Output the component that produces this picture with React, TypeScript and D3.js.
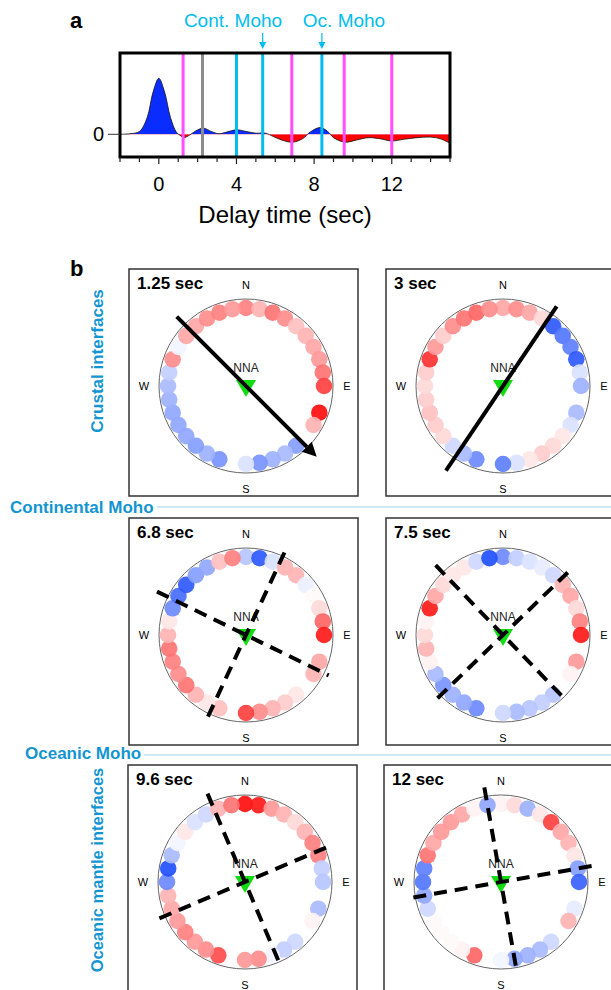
import * as d3 from 'd3';

// ---- panel a: receiver function trace ----
const traceTime = [-2, -1.5, -1, -0.6, -0.3, 0, 0.3, 0.6, 0.9, 1.1, 1.3, 1.6, 1.9, 2.3, 2.7, 3.1, 3.5, 4.0, 4.5, 5.0, 5.5, 5.9, 6.4, 6.9, 7.4, 7.8, 8.3, 8.7, 9.0, 9.6, 10.2, 10.8, 11.4, 12.0, 12.6, 13.3, 14.0, 14.5, 15.0];
const traceAmp = [0, 0.01, 0.05, 0.3, 0.75, 1.0, 0.75, 0.3, 0.04, -0.02, -0.06, -0.01, 0.06, 0.11, 0.05, 0.01, 0.04, 0.08, 0.05, 0.02, 0.02, -0.04, -0.11, -0.14, -0.08, 0.04, 0.12, 0.05, -0.06, -0.14, -0.1, -0.06, -0.08, -0.12, -0.09, -0.06, -0.05, -0.08, -0.16];

const markerTimes = [1.25, 2.25, 4.0, 5.35, 6.85, 8.4, 9.55, 12.0];
const markerKinds = ['mantle', 'other', 'moho', 'moho', 'mantle', 'moho', 'mantle', 'mantle'];
const xTicks = [0, 4, 8, 12];
const minorTicks = d3.range(-2, 16, 1);

// ---- panel b: azimuthal amplitude per 10° back-azimuth bin (N, clockwise) ----
const binAz = d3.range(0, 360, 10);
const panelTitles = ['1.25 sec', '3 sec', '6.8 sec', '7.5 sec', '9.6 sec', '12 sec'];
const amp125 = [0.5, 0.3, 0.55, 0.45, 0.25, 0.3, 0.35, 0.4, 0.55, 0.75, null, 0.95, 0.3, null, -0.5, -0.35, -0.4, -0.55, -0.15, null, -0.55, -0.4, -0.5, -0.45, -0.45, -0.45, -0.4, -0.35, -0.25, 0.45, -0.05, 0.35, 0.35, 0.45, 0.5, 0.4];
const amp3 = [0.35, 0.45, 0.35, 0.15, -0.85, -0.7, -0.65, -0.85, -0.15, -0.4, null, -0.35, -0.15, 0.1, 0.15, 0.2, 0.1, -0.15, -0.65, null, -0.6, -0.35, -0.2, 0.15, 0.2, 0.25, 0.2, 0.15, 0.2, 0.8, 0.4, 0.2, 0.45, 0.55, 0.6, 0.45];
const amp68 = [-0.3, -0.85, -0.15, 0.3, 0.3, -0.08, 0.02, 0.15, 0.6, 0.9, null, 0.35, 0.3, null, 0.1, 0.2, 0.3, 0.45, 0.75, null, 0.25, 0.1, 0.3, 0.55, 0.45, 0.5, 0.55, 0.3, 0.1, -0.6, -0.75, -0.85, -0.5, -0.45, 0.25, 0.5];
const amp75 = [-0.6, -0.25, -0.15, -0.1, -0.2, 0.3, 0.35, 0.15, 0.5, 0.9, null, 0.4, 0.05, null, -0.3, -0.25, -0.3, -0.35, -0.2, null, -0.6, -0.45, -0.4, -0.55, -0.35, 0.05, 0.3, 0.15, 0.05, 0.9, 0.35, 0.15, 0.1, 0.1, -0.2, -0.9];
const amp96 = [0.95, 0.9, 0.4, 0.3, 0.15, 0.3, 0.5, 0.5, -0.25, -0.3, null, -0.35, 0.05, null, -0.2, -0.25, -0.05, 0.45, 0.4, null, 0.7, 0.45, 0.4, 0.5, 0.4, 0.35, 0.3, -0.6, -0.9, -0.35, -0.05, 0.1, -0.15, -0.2, 0.3, 0.55];
const amp12 = [0.05, 0.15, -0.4, 0.1, 0.75, 0.35, 0.3, 0.1, -0.5, -0.8, null, -0.1, 0.3, null, -0.2, -0.35, -0.4, -0.45, -0.05, null, 0.6, 0.05, 0.02, 0.02, 0.02, -0.2, -0.45, -0.7, -0.65, 0.55, 0.35, 0.4, 0.4, 0.35, 0.05, -0.45];
const panelAmps = [amp125, amp3, amp68, amp75, amp96, amp12];

// strike lines: azimuth, forward length, back length
const panelLines = [
  [{ az: 135, fwd: 100, back: 98, dashed: false, arrow: true }],
  [{ az: 34, fwd: 96, back: 102, dashed: false, arrow: false }],
  [{ az: 116, fwd: 92, back: 99, dashed: true, arrow: false }, { az: 25, fwd: 97, back: 90, dashed: true, arrow: false }],
  [{ az: 136, fwd: 92, back: 97, dashed: true, arrow: false }, { az: 46, fwd: 96, back: 91, dashed: true, arrow: false }],
  [{ az: 157, fwd: 93, back: 96, dashed: true, arrow: false }, { az: 67, fwd: 96, back: 93, dashed: true, arrow: false }],
  [{ az: 170, fwd: 92, back: 96, dashed: true, arrow: false }, { az: 80, fwd: 100, back: 89, dashed: true, arrow: false }],
];

const FONT = 'Liberation Sans, Arial, Helvetica, sans-serif';
const LABEL_BLUE = '#1395d2';
const markerColor: Record<string, string> = { mantle: '#ff4dff', other: '#8c8c8c', moho: '#00bdf0' };

const panelBoxes = [
  { x: 129, y: 269 },
  { x: 386, y: 269 },
  { x: 129, y: 518 },
  { x: 386, y: 518 },
  { x: 128, y: 765 },
  { x: 384, y: 765 },
];
const BOX_W = 229;
const BOX_H = 227;
const CIRCLE_R = 87;
const RING_R = 78;

const ampColor = d3.scaleLinear<string>().domain([-1, 0, 1]).range(['#0a3cff', '#ffffff', '#ff0000']).clamp(true);
const azRad = d3.scaleLinear().domain([0, 360]).range([0, 2 * Math.PI]);

function polar(cx: number, cy: number, az: number, r: number): [number, number] {
  const t = azRad(az);
  return [cx + r * Math.sin(t), cy - r * Math.cos(t)];
}

function TracePanel() {
  const x = d3.scaleLinear().domain([-2, 15]).range([120, 450]);
  const y = d3.scaleLinear().domain([-0.405, 1.45]).range([157, 53]);
  const pts = traceTime.map((t, i) => ({ t, a: traceAmp[i] }));
  const area = d3.area<{ t: number; a: number }>()
    .x(d => x(d.t))
    .y0(y(0))
    .y1(d => y(d.a))
    .curve(d3.curveCatmullRom.alpha(0.5));
  const line = d3.line<{ t: number; a: number }>()
    .x(d => x(d.t))
    .y(d => y(d.a))
    .curve(d3.curveCatmullRom.alpha(0.5));
  const areaPath = area(pts) || '';
  const y0 = y(0);

  return (
    <g>
      <defs>
        <clipPath id="pos"><rect x={120} y={53} width={330} height={y0 - 53} /></clipPath>
        <clipPath id="neg"><rect x={120} y={y0} width={330} height={157 - y0} /></clipPath>
      </defs>
      <text x={70} y={28} fontFamily={FONT} fontWeight="bold" fontSize={22}>a</text>
      <path d={areaPath} fill="#0a2cff" clipPath="url(#pos)" />
      <path d={areaPath} fill="#ff0000" clipPath="url(#neg)" />
      <path d={line(pts) || ''} fill="none" stroke="#111" strokeWidth={0.8} />
      {markerTimes.map((t, i) => (
        <line key={i} x1={x(t)} x2={x(t)} y1={53} y2={157} stroke={markerColor[markerKinds[i]]} strokeWidth={3} />
      ))}
      <rect x={120} y={53} width={330} height={104} fill="none" stroke="#000" strokeWidth={3} />
      <line x1={108} x2={120} y1={y0} y2={y0} stroke="#333" strokeWidth={1} />
      <text x={104} y={y0 + 7} textAnchor="end" fontFamily={FONT} fontSize={20}>0</text>
      {minorTicks.map(t => (
        <line key={t} x1={x(t)} x2={x(t)} y1={157} y2={xTicks.includes(t) ? 164 : 162} stroke="#222" strokeWidth={1.2} />
      ))}
      {xTicks.map(t => (
        <text key={t} x={x(t)} y={191} textAnchor="middle" fontFamily={FONT} fontSize={20}>{t}</text>
      ))}
      <text x={285} y={223} textAnchor="middle" fontFamily={FONT} fontSize={24}>Delay time (sec)</text>
      <text x={233} y={27} textAnchor="middle" fontFamily={FONT} fontSize={19} fill="#00bdf0">Cont. Moho</text>
      <text x={344} y={27} textAnchor="middle" fontFamily={FONT} fontSize={19} fill="#00bdf0">Oc. Moho</text>
      {[5.35, 8.4].map(t => (
        <g key={t}>
          <line x1={x(t)} x2={x(t)} y1={33} y2={44} stroke="#00bdf0" strokeWidth={1.2} />
          <path d={`M${x(t) - 3.5},${42} L${x(t) + 3.5},${42} L${x(t)},${49} Z`} fill="#00bdf0" />
        </g>
      ))}
    </g>
  );
}

function RosePanel({ idx }: { idx: number }) {
  const box = panelBoxes[idx];
  const cx = box.x + 117;
  const cy = box.y + 117;
  const amps = panelAmps[idx];
  return (
    <g>
      <rect x={box.x} y={box.y} width={BOX_W} height={BOX_H} fill="#fff" stroke="#333" strokeWidth={1.5} />
      <text x={box.x + 8} y={box.y + 20} fontFamily={FONT} fontWeight="bold" fontSize={17}>{panelTitles[idx]}</text>
      <circle cx={cx} cy={cy} r={CIRCLE_R} fill="none" stroke="#666" strokeWidth={1} />
      {binAz.map((az, i) => {
        const v = amps[i];
        if (v === null) return null;
        const [px, py] = polar(cx, cy, az, RING_R);
        return <circle key={az} cx={px} cy={py} r={8.3} fill={ampColor(v)} fillOpacity={0.92} />;
      })}
      <text x={cx} y={cy - 97} textAnchor="middle" fontFamily={FONT} fontSize={11}>N</text>
      <text x={cx} y={cy + 107} textAnchor="middle" fontFamily={FONT} fontSize={11}>S</text>
      <text x={cx - 102} y={cy + 4} textAnchor="middle" fontFamily={FONT} fontSize={11}>W</text>
      <text x={cx + 101} y={cy + 4} textAnchor="middle" fontFamily={FONT} fontSize={11}>E</text>
      <text x={cx} y={cy - 14} textAnchor="middle" fontFamily={FONT} fontSize={12} fill="#222">NNA</text>
      <path d={`M${cx - 10},${cy - 6} L${cx + 10},${cy - 6} L${cx},${cy + 11} Z`} fill="#11dd11" />
      {panelLines[idx].map((l, j) => {
        const [x1, y1] = polar(cx, cy, l.az + 180, l.back);
        const [x2, y2] = polar(cx, cy, l.az, l.fwd);
        const [xh, yh] = polar(cx, cy, l.az, l.fwd - 14);
        const [xa, ya] = polar(xh, yh, l.az - 90, 7);
        const [xb, yb] = polar(xh, yh, l.az + 90, 7);
        return (
          <g key={j}>
            <line x1={x1} y1={y1} x2={l.arrow ? xh : x2} y2={l.arrow ? yh : y2} stroke="#000" strokeWidth={4}
              strokeDasharray={l.dashed ? '13,8' : undefined} />
            {l.arrow && <path d={`M${xa},${ya} L${x2},${y2} L${xb},${yb} Z`} fill="#000" />}
          </g>
        );
      })}
    </g>
  );
}

export default function App() {
  return (
    <svg width={611} height={990} style={{ position: 'absolute', left: 0, top: 0, background: '#fff' }}>
      <rect width={611} height={990} fill="#fff" />
      <TracePanel />
      <text x={70} y={276} fontFamily={FONT} fontWeight="bold" fontSize={22}>b</text>
      <text transform="translate(103,361) rotate(-90)" textAnchor="middle" fontFamily={FONT} fontWeight="bold" fontSize={17} fill={LABEL_BLUE}>Crustal interfaces</text>
      <text transform="translate(103,870) rotate(-90)" textAnchor="middle" fontFamily={FONT} fontWeight="bold" fontSize={16.5} fill={LABEL_BLUE}>Oceanic mantle interfaces</text>
      <line x1={157} x2={611} y1={507} y2={507} stroke="#9fd3ea" strokeWidth={1.2} />
      <text x={10} y={513} fontFamily={FONT} fontWeight="bold" fontSize={17} fill={LABEL_BLUE}>Continental Moho</text>
      <line x1={144} x2={611} y1={755} y2={755} stroke="#9fd3ea" strokeWidth={1.2} />
      <text x={25} y={759} fontFamily={FONT} fontWeight="bold" fontSize={17} fill={LABEL_BLUE}>Oceanic Moho</text>
      {panelBoxes.map((_, i) => <RosePanel key={i} idx={i} />)}
    </svg>
  );
}
